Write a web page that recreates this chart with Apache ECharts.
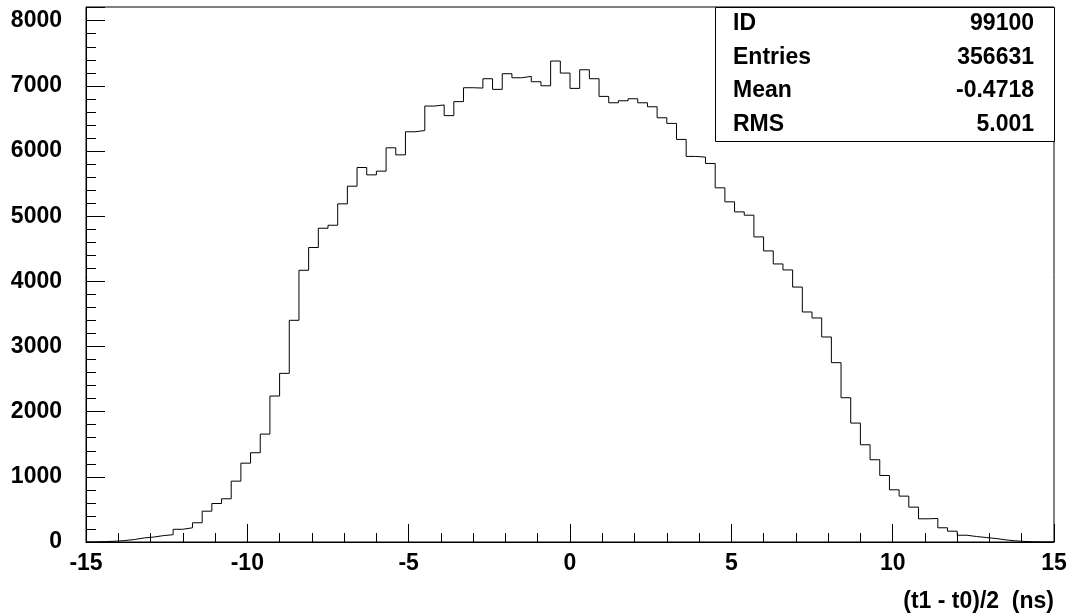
<!DOCTYPE html>
<html>
<head>
<meta charset="utf-8">
<script src="https://cdn.jsdelivr.net/npm/echarts@6/dist/echarts.min.js"></script>
<style>
  html, body { margin: 0; padding: 0; background: #fff; }
  #chart { width: 1073px; height: 615px; }
</style>
</head>
<body>
<div id="chart"></div>
<script>
// Histogram binning: 100 bins over [-15, 15] ns
const xMin = -15;
const xMax = 15;
const nBins = 100;

// Bin contents, left to right
const binCounts = [
  2, 6, 12, 22, 38, 62, 76, 98, 112, 195,
  218, 295, 473, 591, 663, 934, 1210, 1370, 1656, 2240,
  2588, 3402, 4170, 4519, 4815, 4861, 5189, 5460, 5747, 5634,
  5691, 6049, 5941, 6295, 6315, 6690, 6707, 6543, 6758, 6971,
  6966, 7109, 6946, 7186, 7124, 7145, 7063, 7001, 7381, 7196,
  6961, 7247, 7109, 6838, 6740, 6771, 6802, 6740, 6679, 6510,
  6424, 6178, 5917, 5906, 5809, 5435, 5220, 5066, 5015, 4682,
  4467, 4267, 4175, 3912, 3530, 3438, 3146, 2752, 2214, 1825,
  1492, 1262, 1021, 801, 704, 535, 356, 361, 218, 166,
  104, 84, 69, 54, 33, 18, 8, 4, 2, 1
];

// Statistics box rows
const statLabels = ['ID', 'Entries', 'Mean', 'RMS'];
const statValues = ['99100', '356631', '-0.4718', '5.001'];

const xTitle = '(t1 - t0)/2  (ns)';

// Step-line points at the bin edges
const binWidth = (xMax - xMin) / nBins;
const stepPoints = binCounts.map((c, i) => [xMin + i * binWidth, c]);
stepPoints.push([xMax, binCounts[binCounts.length - 1]]);

const FONT = 'Liberation Sans, Arial, Helvetica, sans-serif';
const gridLeft = 86, gridTop = 7, gridW = 968, gridH = 535;

const chart = echarts.init(document.getElementById('chart'), null, { renderer: 'canvas' });

const boxX = 715, boxY = gridTop, boxW = gridLeft + gridW - 715, boxH = 134;
const rowH = boxH / statLabels.length;
const statGraphics = [
  {
    type: 'rect',
    shape: { x: boxX + 0.5, y: boxY + 0.5, width: boxW, height: boxH },
    style: { fill: '#fff', stroke: '#000', lineWidth: 1 },
    z: 100
  }
];
statLabels.forEach((lab, i) => {
  const cy = boxY + rowH * (i + 0.5);
  statGraphics.push({
    type: 'text', z: 101,
    style: { text: lab, x: 733, y: cy, fill: '#000', font: 'bold 23px ' + FONT,
             textAlign: 'left', textVerticalAlign: 'middle' }
  });
  statGraphics.push({
    type: 'text', z: 101,
    style: { text: statValues[i], x: 1034, y: cy, fill: '#000', font: 'bold 23px ' + FONT,
             textAlign: 'right', textVerticalAlign: 'middle' }
  });
});
statGraphics.push({
  type: 'text', z: 101,
  style: { text: xTitle, x: gridLeft + gridW, y: 602, fill: '#000', font: 'bold 23px ' + FONT,
           textAlign: 'right', textVerticalAlign: 'middle' }
});

chart.setOption({
  animation: false,
  backgroundColor: '#fff',
  grid: {
    left: gridLeft, top: gridTop, width: gridW, height: gridH,
    show: true, borderColor: '#000', borderWidth: 1, backgroundColor: 'transparent'
  },
  xAxis: {
    type: 'value',
    min: xMin, max: xMax, interval: 5,
    axisLine: { show: true, onZero: false, lineStyle: { color: '#000', width: 1 } },
    axisTick: { show: true, inside: true, length: 18, lineStyle: { color: '#000', width: 1 } },
    minorTick: { show: true, splitNumber: 5, length: 9, lineStyle: { color: '#000', width: 1 } },
    splitLine: { show: false },
    axisLabel: { color: '#000', fontSize: 23, fontWeight: 'bold', fontFamily: FONT, margin: 10 }
  },
  yAxis: {
    type: 'value',
    min: 0, max: 8210, interval: 1000,
    axisLine: { show: true, onZero: false, lineStyle: { color: '#000', width: 1 } },
    axisTick: { show: true, inside: true, length: 19, lineStyle: { color: '#000', width: 1 } },
    minorTick: { show: true, splitNumber: 5, length: 10, lineStyle: { color: '#000', width: 1 } },
    splitLine: { show: false },
    axisLabel: { color: '#000', fontSize: 23, fontWeight: 'bold', fontFamily: FONT, margin: 24,
                 showMaxLabel: false, formatter: (v) => String(v) }
  },
  series: [{
    type: 'line',
    step: 'end',
    data: stepPoints,
    showSymbol: false,
    symbol: 'none',
    lineStyle: { color: '#000', width: 1 },
    clip: true
  }],
  graphic: statGraphics
});
</script>
</body>
</html>
